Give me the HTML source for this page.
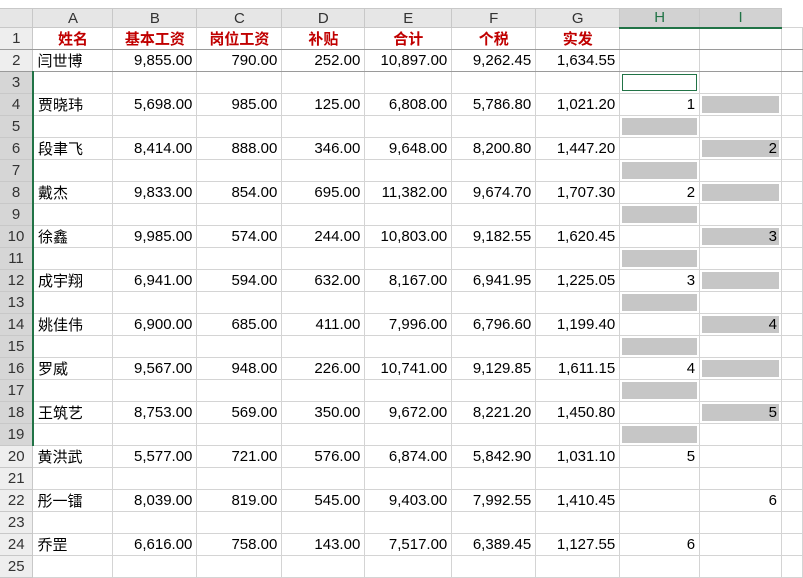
<!DOCTYPE html>
<html><head><meta charset="utf-8"><style>
body{margin:0;width:803px;height:574px;overflow:hidden;background:#fff;font-family:"Liberation Sans","Noto Sans CJK SC",sans-serif;}
table{position:absolute;left:0;top:8px;border-collapse:collapse;table-layout:fixed;font-size:15px;color:#000}
td{border:1px solid #d4d4d4;height:22px;padding:0 4px;white-space:nowrap;overflow:hidden;box-sizing:border-box}
tr.h td{height:19px;background:#e6e6e6;text-align:center;color:#333;border-color:#c8c8c8;font-size:15px}
td.rh{background:#eeeeee;text-align:center;color:#333;padding:0;border-color:#c8c8c8;border-left:none}
td.rs{background:#d6d6d6;border-right:2px solid #217346}
tr.h td.sel{background:#d2d2d2;border-bottom:2px solid #217346;color:#217346}
.r{text-align:right}
.t td:not(.rh){color:#c00000;font-weight:bold;text-align:center}
td.g{box-shadow:inset 0 0 0 2px #fff;background:#c6c6c6}
td.act{box-shadow:inset 0 0 0 2px #fff,inset 0 0 0 3px #217346}
tr.b2 td{border-bottom:1px solid #9a9a9a}
</style></head><body>
<table>
<colgroup><col style="width:33px"><col style="width:80px"><col style="width:84px"><col style="width:85px"><col style="width:83px"><col style="width:87px"><col style="width:84px"><col style="width:84px"><col style="width:80px"><col style="width:82px"><col style="width:21px"></colgroup>
<tr class="h"><td style="background:#e6e6e6;border-left:none"></td><td>A</td><td>B</td><td>C</td><td>D</td><td>E</td><td>F</td><td>G</td><td class="sel">H</td><td class="sel">I</td><td style="background:#fff;border:none"></td></tr>
<tr class="t b2"><td class="rh">1</td><td>姓名</td><td>基本工资</td><td>岗位工资</td><td>补贴</td><td>合计</td><td>个税</td><td>实发</td><td></td><td></td><td></td></tr>
<tr class="b2"><td class="rh">2</td><td>闫世博</td><td class="r">9,855.00</td><td class="r">790.00</td><td class="r">252.00</td><td class="r">10,897.00</td><td class="r">9,262.45</td><td class="r">1,634.55</td><td></td><td></td><td></td></tr>
<tr><td class="rh rs">3</td><td></td><td></td><td></td><td></td><td></td><td></td><td></td><td class="act"></td><td></td><td></td></tr>
<tr><td class="rh rs">4</td><td>贾晓玮</td><td class="r">5,698.00</td><td class="r">985.00</td><td class="r">125.00</td><td class="r">6,808.00</td><td class="r">5,786.80</td><td class="r">1,021.20</td><td class="r">1</td><td class="g"></td><td></td></tr>
<tr><td class="rh rs">5</td><td></td><td></td><td></td><td></td><td></td><td></td><td></td><td class="g"></td><td></td><td></td></tr>
<tr><td class="rh rs">6</td><td>段聿飞</td><td class="r">8,414.00</td><td class="r">888.00</td><td class="r">346.00</td><td class="r">9,648.00</td><td class="r">8,200.80</td><td class="r">1,447.20</td><td></td><td class="g r">2</td><td></td></tr>
<tr><td class="rh rs">7</td><td></td><td></td><td></td><td></td><td></td><td></td><td></td><td class="g"></td><td></td><td></td></tr>
<tr><td class="rh rs">8</td><td>戴杰</td><td class="r">9,833.00</td><td class="r">854.00</td><td class="r">695.00</td><td class="r">11,382.00</td><td class="r">9,674.70</td><td class="r">1,707.30</td><td class="r">2</td><td class="g"></td><td></td></tr>
<tr><td class="rh rs">9</td><td></td><td></td><td></td><td></td><td></td><td></td><td></td><td class="g"></td><td></td><td></td></tr>
<tr><td class="rh rs">10</td><td>徐鑫</td><td class="r">9,985.00</td><td class="r">574.00</td><td class="r">244.00</td><td class="r">10,803.00</td><td class="r">9,182.55</td><td class="r">1,620.45</td><td></td><td class="g r">3</td><td></td></tr>
<tr><td class="rh rs">11</td><td></td><td></td><td></td><td></td><td></td><td></td><td></td><td class="g"></td><td></td><td></td></tr>
<tr><td class="rh rs">12</td><td>成宇翔</td><td class="r">6,941.00</td><td class="r">594.00</td><td class="r">632.00</td><td class="r">8,167.00</td><td class="r">6,941.95</td><td class="r">1,225.05</td><td class="r">3</td><td class="g"></td><td></td></tr>
<tr><td class="rh rs">13</td><td></td><td></td><td></td><td></td><td></td><td></td><td></td><td class="g"></td><td></td><td></td></tr>
<tr><td class="rh rs">14</td><td>姚佳伟</td><td class="r">6,900.00</td><td class="r">685.00</td><td class="r">411.00</td><td class="r">7,996.00</td><td class="r">6,796.60</td><td class="r">1,199.40</td><td></td><td class="g r">4</td><td></td></tr>
<tr><td class="rh rs">15</td><td></td><td></td><td></td><td></td><td></td><td></td><td></td><td class="g"></td><td></td><td></td></tr>
<tr><td class="rh rs">16</td><td>罗威</td><td class="r">9,567.00</td><td class="r">948.00</td><td class="r">226.00</td><td class="r">10,741.00</td><td class="r">9,129.85</td><td class="r">1,611.15</td><td class="r">4</td><td class="g"></td><td></td></tr>
<tr><td class="rh rs">17</td><td></td><td></td><td></td><td></td><td></td><td></td><td></td><td class="g"></td><td></td><td></td></tr>
<tr><td class="rh rs">18</td><td>王筑艺</td><td class="r">8,753.00</td><td class="r">569.00</td><td class="r">350.00</td><td class="r">9,672.00</td><td class="r">8,221.20</td><td class="r">1,450.80</td><td></td><td class="g r">5</td><td></td></tr>
<tr><td class="rh rs">19</td><td></td><td></td><td></td><td></td><td></td><td></td><td></td><td class="g"></td><td></td><td></td></tr>
<tr><td class="rh">20</td><td>黄洪武</td><td class="r">5,577.00</td><td class="r">721.00</td><td class="r">576.00</td><td class="r">6,874.00</td><td class="r">5,842.90</td><td class="r">1,031.10</td><td class="r">5</td><td></td><td></td></tr>
<tr><td class="rh">21</td><td></td><td></td><td></td><td></td><td></td><td></td><td></td><td></td><td></td><td></td></tr>
<tr><td class="rh">22</td><td>彤一镭</td><td class="r">8,039.00</td><td class="r">819.00</td><td class="r">545.00</td><td class="r">9,403.00</td><td class="r">7,992.55</td><td class="r">1,410.45</td><td></td><td class="r">6</td><td></td></tr>
<tr><td class="rh">23</td><td></td><td></td><td></td><td></td><td></td><td></td><td></td><td></td><td></td><td></td></tr>
<tr><td class="rh">24</td><td>乔罡</td><td class="r">6,616.00</td><td class="r">758.00</td><td class="r">143.00</td><td class="r">7,517.00</td><td class="r">6,389.45</td><td class="r">1,127.55</td><td class="r">6</td><td></td><td></td></tr>
<tr><td class="rh">25</td><td></td><td></td><td></td><td></td><td></td><td></td><td></td><td></td><td></td><td></td></tr>
</table>
</body></html>
